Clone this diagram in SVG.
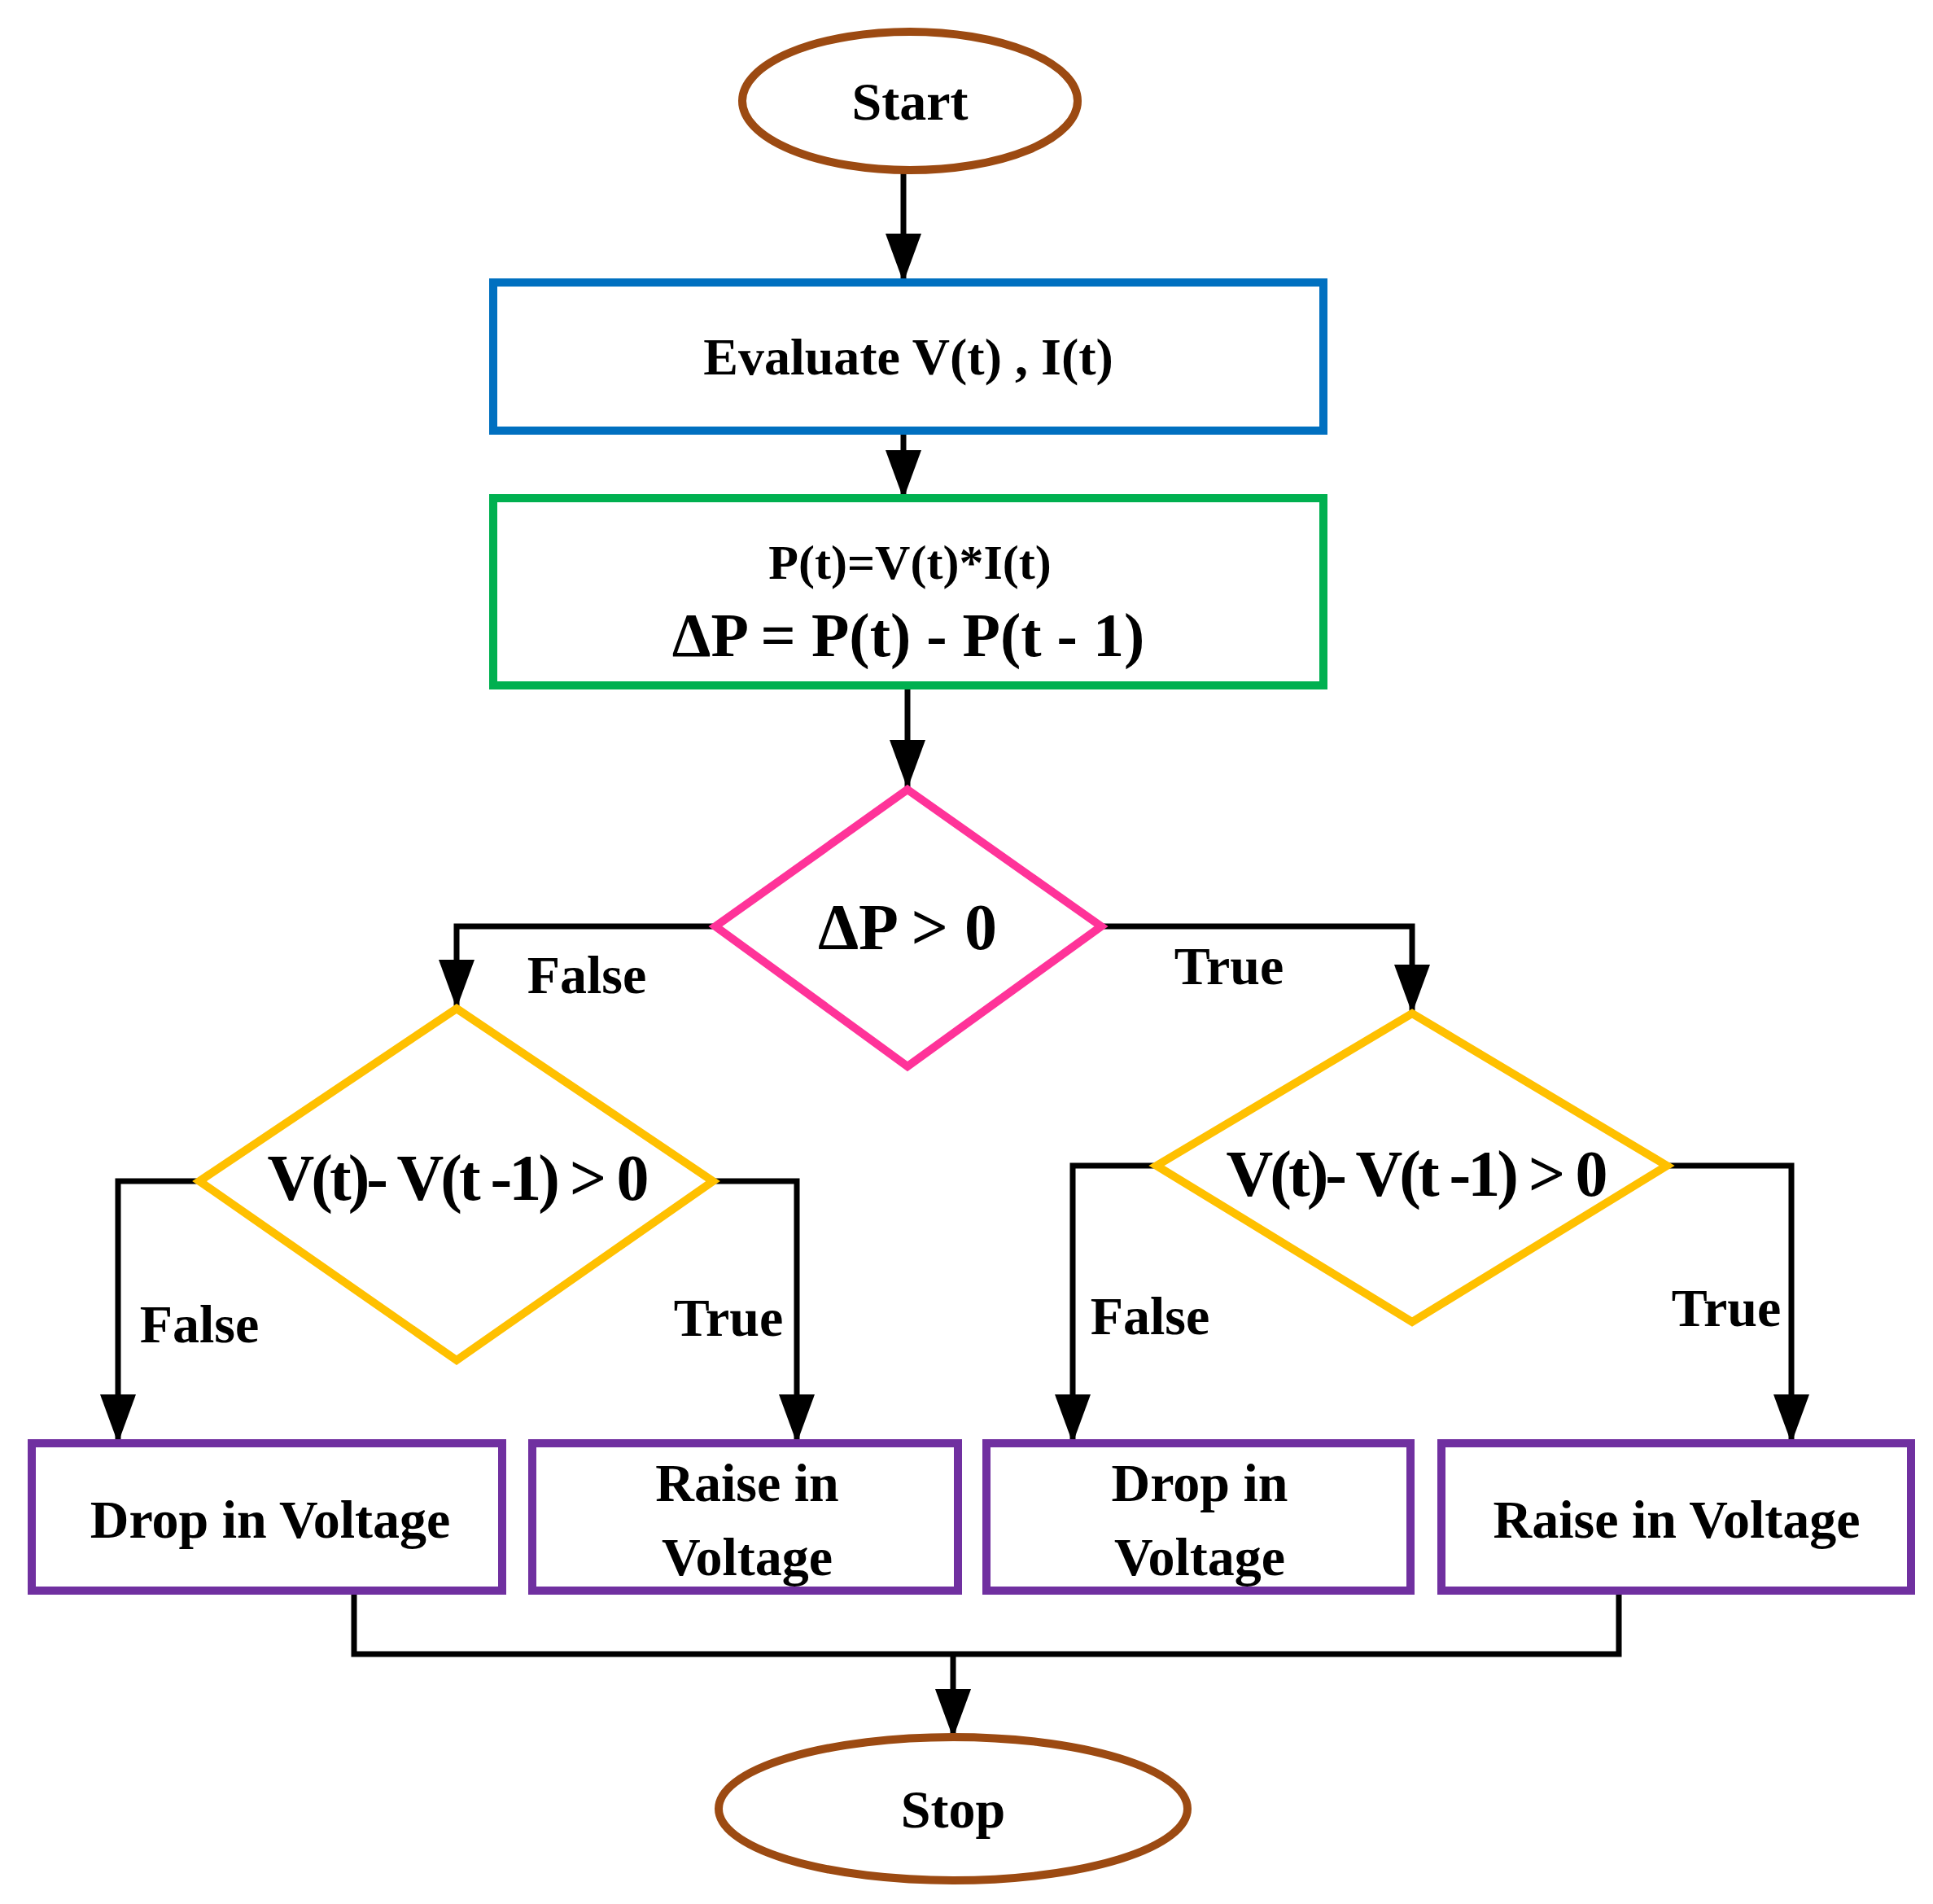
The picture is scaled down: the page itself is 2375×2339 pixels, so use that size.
<svg xmlns="http://www.w3.org/2000/svg" width="2375" height="2339" viewBox="0 0 2375 2339">
<style>
text{font-family:"Liberation Serif","Times New Roman",serif;font-weight:bold;fill:#000;text-anchor:middle;dominant-baseline:central}
.c{fill:none;stroke:#000;stroke-width:7;marker-end:url(#ah)}
.n{fill:none;stroke:#000;stroke-width:7}
.t{font-size:66px}
</style>
<defs><marker id="ah" markerUnits="userSpaceOnUse" markerWidth="60" markerHeight="44" refX="58" refY="22" orient="auto"><path d="M0,0 L60,22 L0,44 Z" fill="#000"/></marker></defs>
<rect width="2375" height="2339" fill="#fff"/>
<g id="connectors">
<path class="c" d="M1110,212 V345"/>
<path class="c" d="M1110,529 V611"/>
<path class="c" d="M1115,842 V967"/>
<path class="c" d="M879,1138 H561 V1237"/>
<path class="c" d="M1353,1138 H1735 V1243"/>
<path class="c" d="M245,1451 H145 V1771"/>
<path class="c" d="M876,1451 H979 V1771"/>
<path class="c" d="M1421,1432 H1318 V1771"/>
<path class="c" d="M2048,1432 H2201 V1771"/>
<path class="n" d="M435,1954 V2032 H1989 V1954"/>
<path class="c" d="M1171,2032 V2133"/>
<text class="t" x="721" y="1197">False</text>
<text class="t" x="1510" y="1186">True</text>
<text class="t" x="245" y="1626">False</text>
<text class="t" x="895" y="1618">True</text>
<text class="t" x="1413" y="1616">False</text>
<text class="t" x="2121" y="1606">True</text>
</g>
<g id="start"><ellipse cx="1118" cy="124" rx="206" ry="85" fill="#fff" stroke="#9C4A12" stroke-width="10"/><text class="t" x="1118" y="124">Start</text></g>
<g id="evaluate"><rect x="606" y="347" width="1020" height="182" fill="#fff" stroke="#0070C0" stroke-width="10"/><text x="1116" y="438" font-size="64">Evaluate V(t) , I(t)</text></g>
<g id="power"><rect x="606" y="612" width="1020" height="230" fill="#fff" stroke="#00B050" stroke-width="10"/><text x="1118" y="691" font-size="60">P(t)=V(t)*I(t)</text><text x="1116" y="780" font-size="76">ΔP = P(t) - P(t - 1)</text></g>
<g id="dp"><polygon points="1115,970 1353,1138 1115,1310 879,1138" fill="#fff" stroke="#FF3399" stroke-width="10"/><text x="1115" y="1139" font-size="80">ΔP &gt; 0</text></g>
<g id="dv1"><polygon points="561,1239 876,1451 561,1671 245,1451" fill="#fff" stroke="#FFC000" stroke-width="10"/><text x="561" y="1447" font-size="80" letter-spacing="-4">V(t)- V(t -1) &gt; 0</text></g>
<g id="dv2"><polygon points="1735,1245 2048,1432 1735,1624 1421,1432" fill="#fff" stroke="#FFC000" stroke-width="10"/><text x="1739" y="1442" font-size="80" letter-spacing="-4">V(t)- V(t -1) &gt; 0</text></g>
<g id="b1"><rect x="39" y="1773" width="578" height="181" fill="#fff" stroke="#7030A0" stroke-width="10"/><text class="t" x="332" y="1866">Drop in Voltage</text></g>
<g id="b2"><rect x="654" y="1773" width="523" height="181" fill="#fff" stroke="#7030A0" stroke-width="10"/><text class="t" x="918" y="1821">Raise in</text><text class="t" x="918" y="1912">Voltage</text></g>
<g id="b3"><rect x="1212" y="1773" width="521" height="181" fill="#fff" stroke="#7030A0" stroke-width="10"/><text class="t" x="1474" y="1821">Drop in</text><text class="t" x="1474" y="1912">Voltage</text></g>
<g id="b4"><rect x="1771" y="1773" width="577" height="181" fill="#fff" stroke="#7030A0" stroke-width="10"/><text class="t" x="2060" y="1866">Raise in Voltage</text></g>
<g id="stop"><ellipse cx="1171" cy="2222" rx="288" ry="88" fill="#fff" stroke="#9C4A12" stroke-width="10"/><text class="t" x="1171" y="2222">Stop</text></g>
</svg>
